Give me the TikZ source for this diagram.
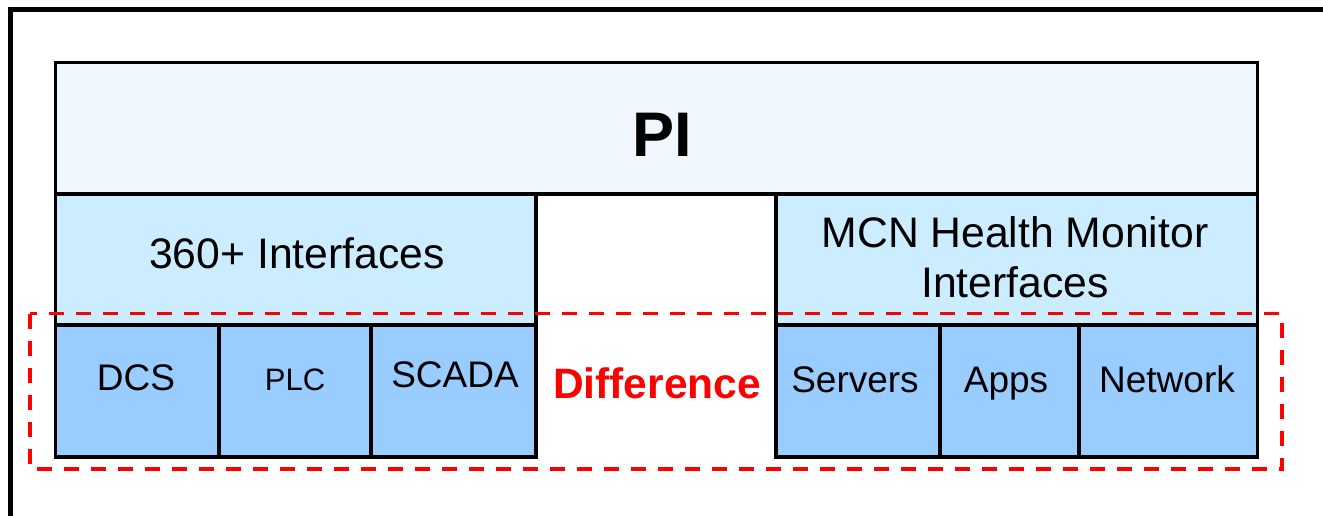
\documentclass[tikz,border=0pt]{standalone}
\usepackage{fontspec}
\setmainfont{Liberation Sans}
\definecolor{piblue}{HTML}{F0F7FF}
\definecolor{ifblue}{HTML}{CCECFF}
\definecolor{cellblue}{HTML}{99CCFF}
\definecolor{diffred}{HTML}{FF0000}
\tikzset{
  box/.style={draw=black, line width=3.5pt, inner sep=0pt},
  pibox/.style={box, fill=piblue},
  ifbox/.style={box, fill=ifblue},
  cellbox/.style={box, fill=cellblue},
  lbl/.style={anchor=base, inner sep=0pt, text=black},
  diffbox/.style={draw=diffred, line width=3.5pt, dash pattern=on 15pt off 12pt},
}
\newcommand{\fs}[1]{\fontsize{#1}{#1}\selectfont}
\begin{document}
\begin{tikzpicture}[x=1pt,y=-1pt]
\clip (0,0) rectangle (1323,516);
\fill[white] (0,0) rectangle (1323,516);
% outer frame
\draw[line width=5pt] (10,10) rectangle (1345,540);
% boxes
\path[pibox] (55.5,62.5) rectangle (1257.5,194) node[midway] (pi) {};
\path[ifbox] (55.5,194) rectangle (536,325) node[midway] (ifl) {};
\path[ifbox] (776,194) rectangle (1257.5,325) node[midway] (ifr) {};
\path[cellbox] (55.5,325) rectangle (219,457) node[midway] (dcs) {};
\path[cellbox] (219,325) rectangle (371,457) node[midway] (plc) {};
\path[cellbox] (371,325) rectangle (536,457) node[midway] (scada) {};
\path[cellbox] (776,325) rectangle (940,457) node[midway] (servers) {};
\path[cellbox] (940,325) rectangle (1079,457) node[midway] (apps) {};
\path[cellbox] (1079,325) rectangle (1257.5,457) node[midway] (network) {};
% labels
\node[lbl, font=\fs{63}\bfseries] (tpi) at (662,157) {PI};
\node[lbl, font=\fs{42.7}] (tifl) at (297,268.5) {360+ Interfaces};
\node[lbl, font=\fs{42.7}] (tifr1) at (1015,247.7) {MCN Health Monitor};
\node[lbl, font=\fs{42.7}] (tifr2) at (1015,297.7) {Interfaces};
\node[lbl, font=\fs{37}] (tdcs) at (136,390.7) {DCS};
\node[lbl, font=\fs{31}] (tplc) at (295,390.7) {PLC};
\node[lbl, font=\fs{37}] (tscada) at (455,387.3) {SCADA};
\node[lbl, font=\fs{37}] (tservers) at (855,392.7) {Servers};
\node[lbl, font=\fs{37}] (tapps) at (1006,392.7) {Apps};
\node[lbl, font=\fs{37}] (tnetwork) at (1167,392.7) {Network};
\node[lbl, font=\fs{42.5}\bfseries, text=diffred] (tdiff) at (657,398.3) {Difference};
% difference frame
\draw[diffbox] (30,313.5) rectangle (1282,469);
\end{tikzpicture}
\end{document}
